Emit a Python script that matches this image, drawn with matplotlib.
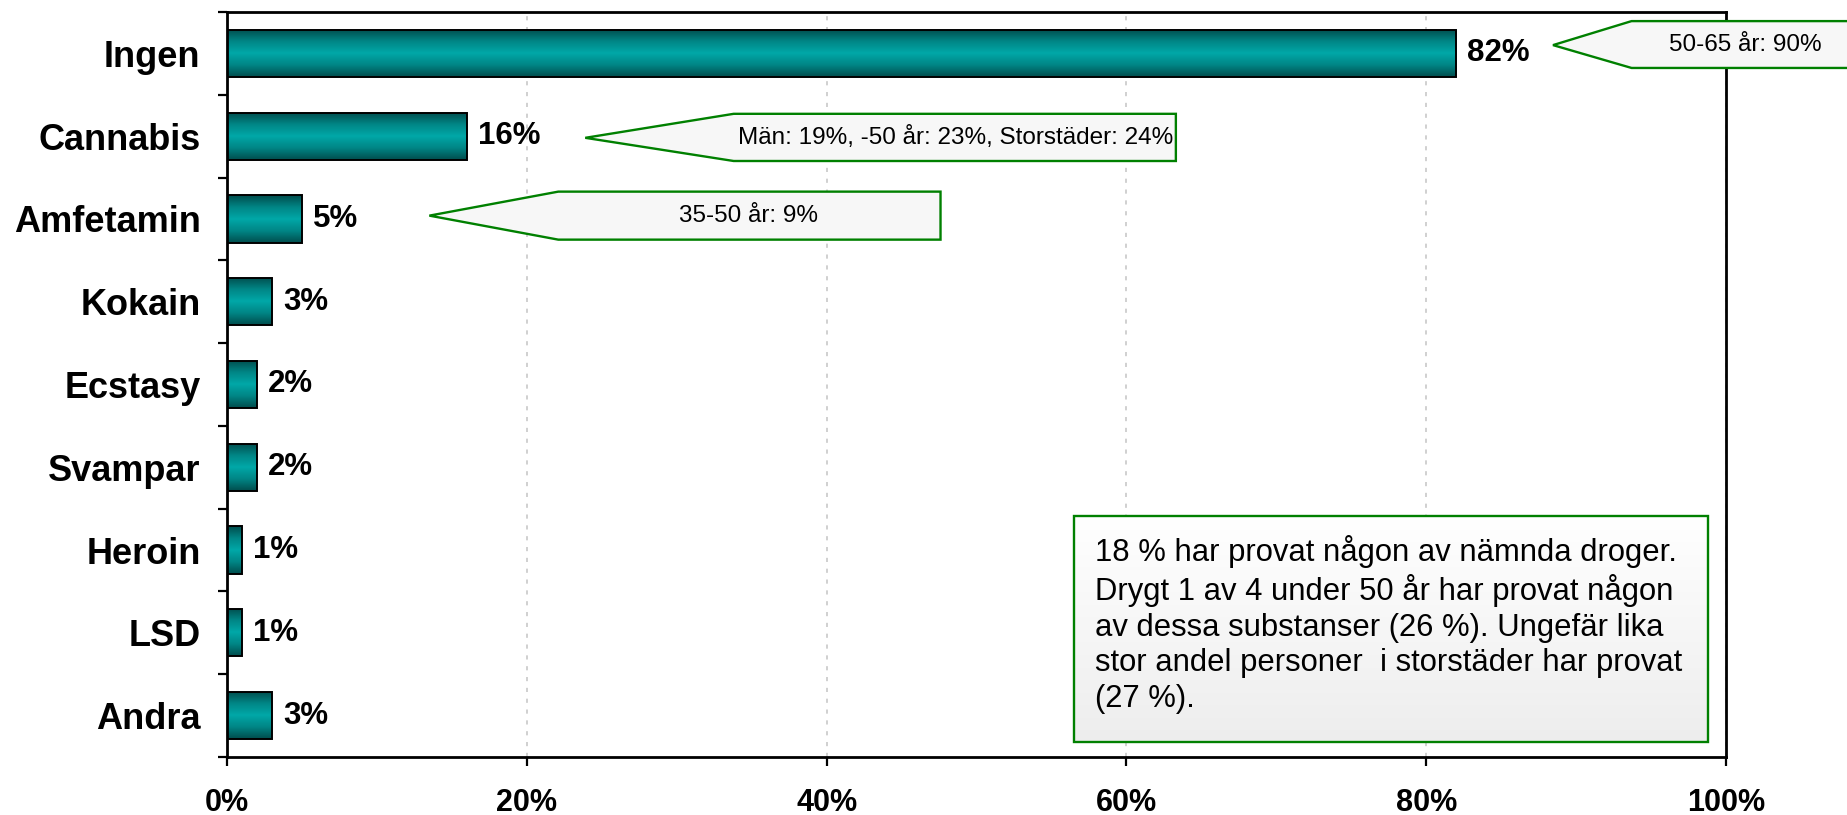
import matplotlib
matplotlib.use("Agg")
import matplotlib.pyplot as plt
import numpy as np
from matplotlib.patches import Polygon, Rectangle
from matplotlib.colors import LinearSegmentedColormap

categories = ['Ingen', 'Cannabis', 'Amfetamin', 'Kokain', 'Ecstasy',
              'Svampar', 'Heroin', 'LSD', 'Andra']
values = [82, 16, 5, 3, 2, 2, 1, 1, 3]
value_labels = ['82%', '16%', '5%', '3%', '2%', '2%', '1%', '1%', '3%']
x_ticks = [0, 20, 40, 60, 80, 100]
x_tick_labels = ['0%', '20%', '40%', '60%', '80%', '100%']

callout_texts = ['50-65 år: 90%',
                 'Män: 19%, -50 år: 23%, Storstäder: 24%',
                 '35-50 år: 9%']
box_text = ("18 % har provat någon av nämnda droger.\n"
            "Drygt 1 av 4 under 50 år har provat någon\n"
            "av dessa substanser (26 %). Ungefär lika\n"
            "stor andel personer  i storstäder har provat\n"
            "(27 %).")

FONT = ['Liberation Sans', 'DejaVu Sans']
plt.rcParams['font.family'] = FONT

W, H = 1847, 815
fig = plt.figure(figsize=(W / 100, H / 100), dpi=100)
L, R, T, B = 227, 1726, 12, 757
ax = fig.add_axes([L / W, 1 - B / H, (R - L) / W, (B - T) / H])

y = np.arange(len(categories))
bar_h = 0.57
bars = ax.barh(y, values, height=bar_h, facecolor='none', edgecolor='black',
               linewidth=1.4, zorder=3)

cmap = LinearSegmentedColormap.from_list(
    'teal', ['#004d4d', '#008585', '#00a8a8', '#008585', '#004d4d'])
grad = np.linspace(0, 1, 200).reshape(-1, 1)
for b in bars:
    x0, y0, w, h = b.get_x(), b.get_y(), b.get_width(), b.get_height()
    im = ax.imshow(grad, cmap=cmap, aspect='auto',
                   extent=(x0, x0 + w, y0 + h, y0), zorder=2.5,
                   interpolation='bilinear')
    im.set_clip_path(b)

for b, lab in zip(bars, value_labels):
    ax.annotate(lab, (b.get_width(), b.get_y() + b.get_height() / 2),
                xytext=(8, 0), textcoords='offset points', va='center',
                ha='left', fontsize=22.5, fontweight='bold', zorder=4)

ax.set_xlim(0, 100)
ax.set_ylim(len(categories) - 0.5, -0.5)

ax.set_xticks(x_ticks)
ax.set_xticklabels(x_tick_labels, fontsize=22, fontweight='bold')
ax.tick_params(axis='x', direction='out', length=6.5, width=1.6, pad=16)
ax.set_yticks(y)
ax.set_yticklabels(categories, fontsize=26, fontweight='bold')
ax.tick_params(axis='y', which='major', length=0, pad=19)
ax.set_yticks(np.arange(len(categories) + 1) - 0.5, minor=True)
ax.tick_params(axis='y', which='minor', direction='out', length=6.5, width=1.6)

for s in ax.spines.values():
    s.set_linewidth(2.0)
    s.set_color('black')

for xv in x_ticks[1:]:
    ax.axvline(xv, color='#c8c8c8', linewidth=1.2, linestyle=(0, (2.5, 4)),
               zorder=1)

# callouts (arrow-shaped boxes)
green = '#008000'
def callout(tip_x, tip_y, left, right, top, bottom, text, tx, ha='center'):
    poly = Polygon([(tip_x, tip_y), (left, top), (right, top),
                    (right, bottom), (left, bottom)], closed=True,
                   facecolor='#f7f7f7', edgecolor=green, linewidth=1.7,
                   zorder=6, clip_on=False)
    ax.add_patch(poly)
    ax.text(tx, tip_y, text, ha=ha, va='center', fontsize=17.5, zorder=7,
            clip_on=False)

callout(88.46, -0.10, 93.7, 115.0, -0.39, 0.176, callout_texts[0], 101.3)
callout(23.9, 1.02, 33.8, 63.3, 0.73, 1.30, callout_texts[1], 48.6)
callout(13.5, 1.96, 22.1, 47.6, 1.67, 2.25, callout_texts[2], 34.8)

# info box with vertical gradient
bx0, bx1, by0, by1 = 56.5, 98.8, 5.59, 8.32
rect = Rectangle((bx0, by0), bx1 - bx0, by1 - by0, facecolor='none',
                 edgecolor=green, linewidth=1.7, zorder=7)
ax.add_patch(rect)
bgrad = np.linspace(1, 0.93, 100).reshape(-1, 1)
bg = ax.imshow(np.dstack([bgrad, bgrad, bgrad]), aspect='auto',
               extent=(bx0, bx1, by1, by0), zorder=6, interpolation='bilinear')
bg.set_clip_path(rect)
ax.text(57.9, 6.90, box_text, ha='left', va='center', fontsize=22.3,
        linespacing=1.24, zorder=8)

ax.set_xlim(0, 100)
ax.set_ylim(len(categories) - 0.5, -0.5)

fig.savefig('out.png', dpi=100)
